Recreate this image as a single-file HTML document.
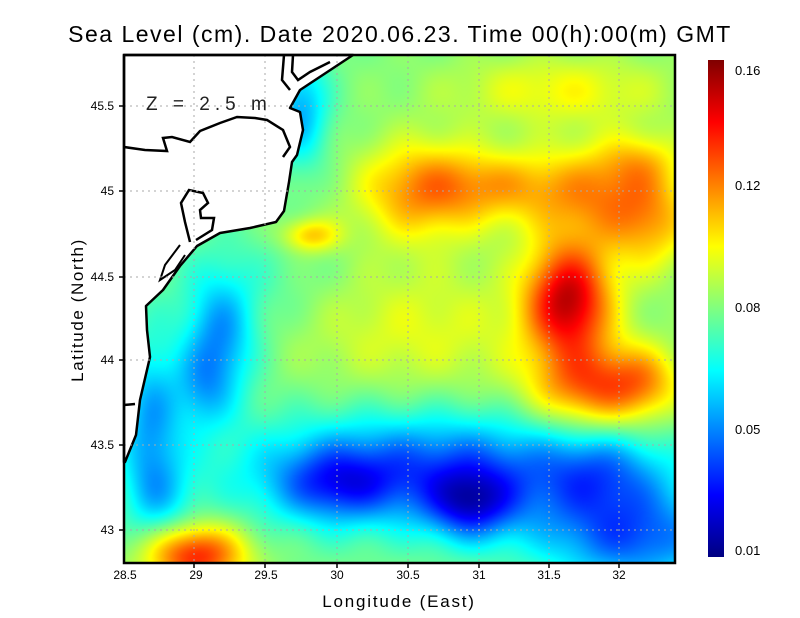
<!DOCTYPE html>
<html><head><meta charset="utf-8">
<style>
body{margin:0;background:#fff;width:800px;height:618px;overflow:hidden;font-family:"Liberation Sans",sans-serif;}
#c{position:absolute;left:124px;top:55px;}
svg{position:absolute;left:0;top:0;}
</style></head><body>
<canvas id="c" width="551" height="508"></canvas>
<svg width="800" height="618" xmlns="http://www.w3.org/2000/svg">
<defs><linearGradient id="jet" x1="0" y1="1" x2="0" y2="0">
<stop offset="0" stop-color="#000080"/><stop offset="0.125" stop-color="#0000ff"/>
<stop offset="0.375" stop-color="#00ffff"/><stop offset="0.625" stop-color="#ffff00"/>
<stop offset="0.875" stop-color="#ff0000"/><stop offset="1" stop-color="#800000"/></linearGradient></defs>
<path d="M124,55 L353,55 L300,90 L290,108 L300,112 L303,130 L297,155 L292,162 L289,182 L284,211 L276,222 L250,228 L220,233 L197,246 L180,266 L163,290 L146,306 L147,330 L150,357 L140,400 L136,435 L125,462 L124,462 Z" fill="#fff" stroke="#000" stroke-width="2.5" stroke-linejoin="round"/>
<path d="M124,147 L145,150 L167,151 L163,138 L172,137 L190,142 L200,131 L220,123 L237,117 L255,118 L267,120 L283,130 L290,147 L283,157" fill="none" stroke="#000" stroke-width="2.5"/>
<path d="M190,242 L185,222 L181,203 L189,190 L203,193 L208,203 L200,210 L201,218 L214,218 L212,230 L196,240" fill="none" stroke="#000" stroke-width="2.5"/>
<path d="M284,55 L282,80 L290,90 M293,55 L292,72 L298,80 L310,72 L330,62" fill="none" stroke="#000" stroke-width="2.5"/>
<path d="M180,245 L165,265 L160,280 L175,270 L185,255" fill="none" stroke="#000" stroke-width="2"/>
<path d="M124,405 L135,404" stroke="#000" stroke-width="2.5"/>
<g stroke="#aaa" stroke-width="1" stroke-dasharray="2,4">
<line x1="194" y1="55" x2="194" y2="563"/><line x1="265" y1="55" x2="265" y2="563"/>
<line x1="337" y1="55" x2="337" y2="563"/><line x1="408" y1="55" x2="408" y2="563"/>
<line x1="479" y1="55" x2="479" y2="563"/><line x1="549" y1="55" x2="549" y2="563"/>
<line x1="619" y1="55" x2="619" y2="563"/>
<line x1="124" y1="106" x2="675" y2="106"/><line x1="124" y1="191" x2="675" y2="191"/>
<line x1="124" y1="277" x2="675" y2="277"/><line x1="124" y1="360" x2="675" y2="360"/>
<line x1="124" y1="445" x2="675" y2="445"/><line x1="124" y1="530" x2="675" y2="530"/>
</g>
<text x="146" y="110" font-size="19" fill="#222" letter-spacing="5">Z = 2.5 m</text>
<rect x="124" y="55" width="551" height="508" fill="none" stroke="#000" stroke-width="2.5"/>
<g stroke="#000" stroke-width="1.5">
<line x1="194" y1="563" x2="194" y2="568"/><line x1="265" y1="563" x2="265" y2="568"/><line x1="337" y1="563" x2="337" y2="568"/><line x1="408" y1="563" x2="408" y2="568"/><line x1="479" y1="563" x2="479" y2="568"/><line x1="549" y1="563" x2="549" y2="568"/><line x1="619" y1="563" x2="619" y2="568"/>
<line x1="119" y1="106" x2="124" y2="106"/><line x1="119" y1="191" x2="124" y2="191"/><line x1="119" y1="277" x2="124" y2="277"/><line x1="119" y1="360" x2="124" y2="360"/><line x1="119" y1="445" x2="124" y2="445"/><line x1="119" y1="530" x2="124" y2="530"/>
</g>
<g font-size="12" fill="#000" text-anchor="middle">
<text x="125" y="579">28.5</text><text x="196" y="579">29</text><text x="266" y="579">29.5</text><text x="337" y="579">30</text><text x="408" y="579">30.5</text><text x="479" y="579">31</text><text x="549" y="579">31.5</text><text x="619" y="579">32</text>
</g>
<g font-size="12" fill="#000" text-anchor="end">
<text x="114" y="110">45.5</text><text x="114" y="195">45</text><text x="114" y="281">44.5</text><text x="114" y="364">44</text><text x="114" y="449">43.5</text><text x="114" y="534">43</text>
</g>
<text x="400" y="42" font-size="23" text-anchor="middle" letter-spacing="1.5">Sea Level (cm). Date 2020.06.23. Time 00(h):00(m) GMT</text>
<text x="399" y="607" font-size="17" text-anchor="middle" letter-spacing="1.8">Longitude (East)</text>
<text transform="translate(83,310) rotate(-90)" font-size="17" text-anchor="middle" letter-spacing="1.6">Latitude (North)</text>
<rect x="708" y="60" width="16" height="497" fill="url(#jet)"/>
<g font-size="13" fill="#000">
<text x="735" y="75">0.16</text><text x="735" y="190">0.12</text><text x="735" y="312">0.08</text><text x="735" y="434">0.05</text><text x="735" y="555">0.01</text>
</g>
</svg>
<script>
var c=document.getElementById('c'),ctx=c.getContext('2d'),W=551,H=508;
var img=ctx.createImageData(W,H),d=img.data;
var F=[
[568,300,30,40,0.42],[650,225,30,35,0.15],[600,195,50,35,0.2],[640,160,30,20,0.1],
[595,388,45,30,0.28],[645,380,25,25,0.12],[420,190,45,35,0.22],[500,185,50,25,0.15],
[195,555,35,22,0.35],[310,235,20,12,0.18],[420,330,90,50,0.1],[560,90,80,25,0.12],
[430,470,130,40,-0.3],[470,505,30,25,-0.25],[335,485,40,25,-0.18],[620,520,70,40,-0.15],[640,545,60,30,-0.15],[600,470,40,30,-0.12],
[220,340,25,45,-0.22],[200,390,20,30,-0.12],[150,420,22,60,-0.2],[300,110,20,40,-0.2],[160,500,25,30,-0.1],[250,280,60,40,-0.05]
];
function cl(v){return v<0?0:v>1?1:v;}
for(var y=0;y<H;y++)for(var x=0;x<W;x++){
 var X=x+124,Y=y+55,t=0.5;
 for(var i=0;i<F.length;i++){var f=F[i],dx=(X-f[0])/f[2],dy=(Y-f[1])/f[3];t+=f[4]*Math.exp(-0.5*(dx*dx+dy*dy));}
 t+=0.015*Math.sin(X*0.09)*Math.cos(Y*0.07);
 t=cl(t);
 var k=(y*W+x)*4;
 d[k]=255*cl(1.5-Math.abs(4*t-3));d[k+1]=255*cl(1.5-Math.abs(4*t-2));d[k+2]=255*cl(1.5-Math.abs(4*t-1));d[k+3]=255;
}
ctx.putImageData(img,0,0);
</script>
</body></html>
